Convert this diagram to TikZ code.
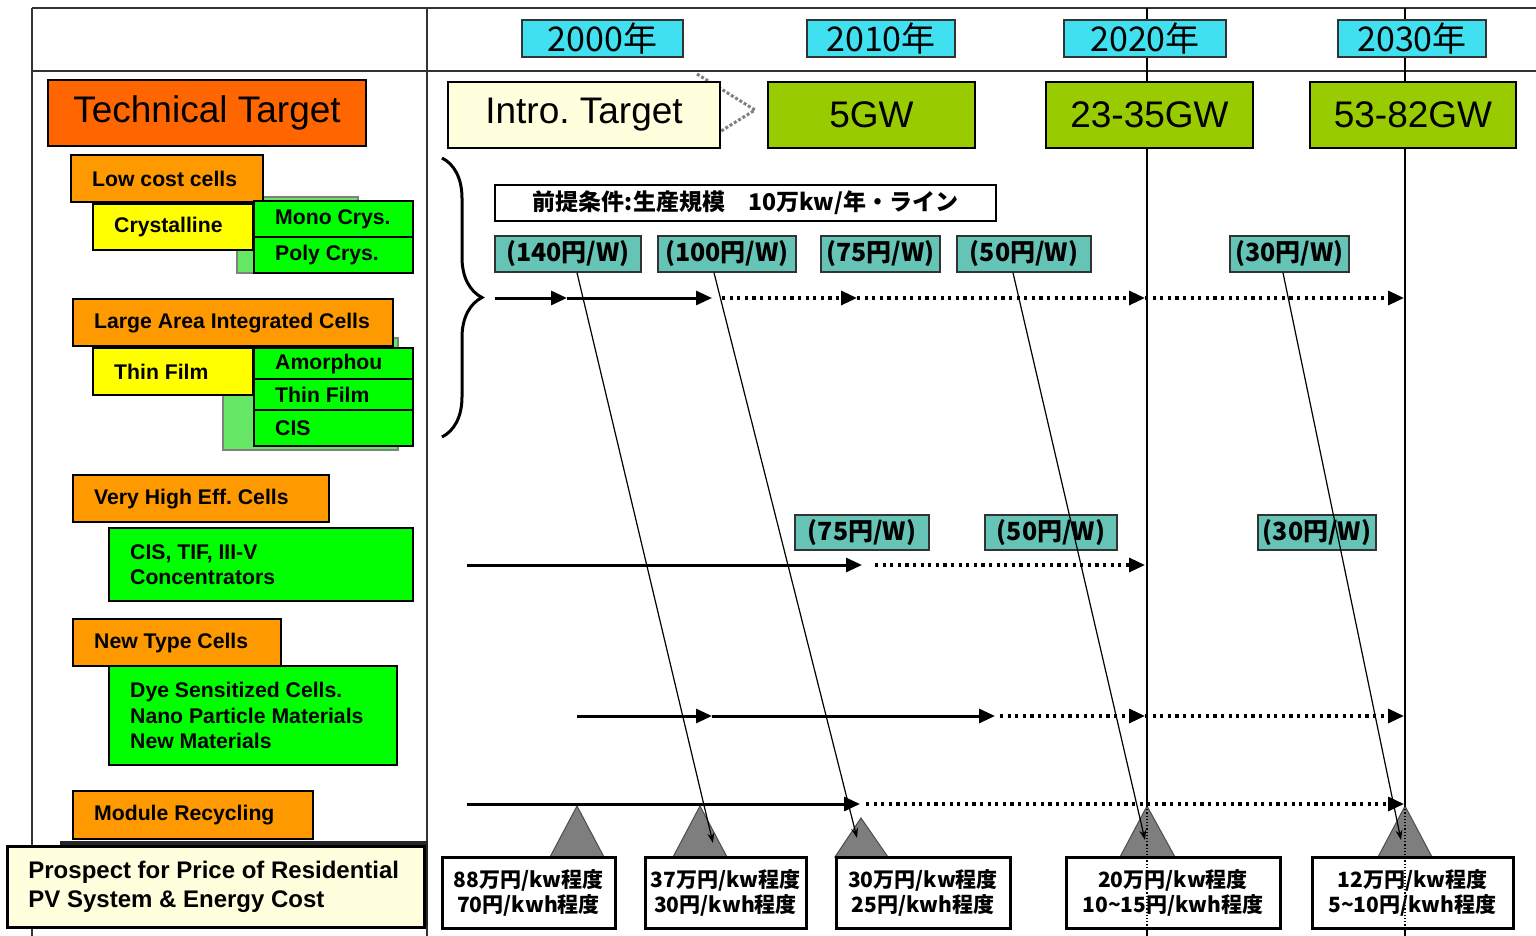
\documentclass[tikz,border=0pt]{standalone}
\usepackage{fontspec}
\setmainfont{Liberation Sans}
\newfontfamily\jp{Noto Sans CJK JP}
\usetikzlibrary{arrows.meta,decorations.pathreplacing}
\definecolor{torange}{HTML}{FF6600}
\definecolor{lorange}{HTML}{FF9900}
\definecolor{yel}{HTML}{FFFF00}
\definecolor{grn}{HTML}{00FF00}
\definecolor{gwcol}{HTML}{99CC00}
\definecolor{cream}{HTML}{FFFFDD}
\definecolor{cyanbox}{HTML}{40E0F0}
\definecolor{pricecol}{HTML}{66C4B6}
\definecolor{shgreen}{HTML}{66E866}
\definecolor{trigcol}{HTML}{7E7E7E}
\newcommand\bxl[7]{%
  \pgfmathsetmacro\bw{#4*0.5}\pgfmathsetmacro\bh{#5*0.5}%
  \node[#6, anchor=north west, minimum width=\bw pt, minimum height=\bh pt, inner sep=0pt] (#1) at (#2,#3) {};
  \node[#6, draw=none, fill=none, anchor=west, inner sep=0pt] (#1t) at ([xshift=10.5pt]#1.west) {#7};}
\newcommand\bxc[7]{%
  \pgfmathsetmacro\bw{#4*0.5}\pgfmathsetmacro\bh{#5*0.5}%
  \node[#6, minimum width=\bw pt, minimum height=\bh pt, inner sep=0pt]
        (#1) at ({#2+#4/2},{#3+#5/2}) {#7};}
\tikzset{
  frameline/.style={line width=1pt, black!80},
  yearline/.style={line width=0.7pt, black},
  big/.style={draw=black, line width=1.2pt, font=\fontsize{18.5}{22}\selectfont},
  lbl/.style={draw=black, line width=1.2pt, align=left, font=\fontsize{10.6}{12.8}\selectfont\bfseries},
  lblb/.style={draw=black, line width=1.4pt, align=left, font=\fontsize{12}{14.5}\selectfont\bfseries},
  yearbox/.style={fill=cyanbox, draw=black!80, line width=0.8pt, font=\jp\fontsize{17}{20}\selectfont},
  price/.style={fill=pricecol, draw=black!80, line width=0.8pt, font=\jp\bfseries\fontsize{12.5}{15}\selectfont},
  jpbox/.style={draw=black, fill=white, line width=0.9pt, font=\jp\bfseries\fontsize{11.5}{14}\selectfont},
  cost/.style={draw=black, fill=white, line width=1.5pt, align=center, font=\jp\bfseries\fontsize{10.5}{12.5}\selectfont},
  solidarr/.style={line width=1.5pt, -{Triangle[length=8pt,width=7pt]}},
  dotarr/.style={line width=1.6pt, dash pattern=on 1.6pt off 2.2pt, -{Triangle[length=8pt,width=7pt]}},
  diag/.style={line width=0.6pt, -{Stealth[length=5pt,width=3.5pt]}},
  trig/.style={fill=trigcol, draw=black!70, line width=0.5pt},
  shadowbox/.style={fill=shgreen, draw=black!50, line width=0.8pt},
}
\begin{document}
\frenchspacing
\begin{tikzpicture}[x=0.5pt,y=-0.5pt]
\useasboundingbox (0,0) rectangle (1536,936);
\fill[white] (0,0) rectangle (1536,936);
% frame
\draw[frameline] (32,8) -- (1536,8);
\draw[frameline] (32,71) -- (1536,71);
\draw[frameline] (32,8) -- (32,936);
\draw[frameline] (427,8) -- (427,936);
\draw[yearline] (1147,8) -- (1147,936);
\draw[yearline] (1405,8) -- (1405,936);
% years
\bxc{y2000}{522}{20}{161}{37}{yearbox}{2000年}
\bxc{y2010}{807}{20}{148}{37}{yearbox}{2010年}
\bxc{y2020}{1064}{20}{162}{37}{yearbox}{2020年}
\bxc{y2030}{1338}{20}{148}{37}{yearbox}{2030年}
% targets
\draw[densely dotted, gray, line width=1.5pt, fill=white] (697,74) -- (755,110) -- (697,146);
\bxc{tech}{48}{80}{318}{66}{big, fill=torange}{Technical Target}
\bxc{intro}{448}{82}{272}{66}{big, fill=cream}{Intro. Target}
\bxc{g1}{768}{82}{207}{66}{big, fill=gwcol}{5GW}
\bxc{g2}{1046}{82}{207}{66}{big, fill=gwcol}{23-35GW}
\bxc{g3}{1310}{82}{206}{66}{big, fill=gwcol}{53-82GW}
% left panel
\draw[shadowbox] (237,197) rectangle (358,273);
\bxl{lowcost}{70}{154}{192}{47}{lbl, fill=lorange}{Low cost cells}
\bxl{cryst}{92}{203}{160}{46}{lbl, fill=yel}{Crystalline}
\bxl{mono}{253}{200}{159}{36}{lbl, fill=grn}{Mono Crys.}
\bxl{poly}{253}{236}{159}{36}{lbl, fill=grn}{Poly Crys.}
\draw[shadowbox] (223,338) rectangle (398,450);
\bxl{large}{72}{298}{320}{47}{lbl, fill=lorange}{Large Area Integrated Cells}
\bxl{thin}{92}{347}{160}{47}{lbl, fill=yel}{Thin Film}
\bxl{amor}{253}{347}{159}{31}{lbl, fill=grn}{Amorphou}
\bxl{tfilm}{253}{378}{159}{31}{lbl, fill=grn}{Thin Film}
\bxl{cis}{253}{409}{159}{36}{lbl, fill=grn}{CIS}
\bxl{vhe}{72}{474}{256}{47}{lbl, fill=lorange}{Very High Eff. Cells}
\bxl{cistif}{108}{527}{304}{73}{lbl, fill=grn}{CIS, TIF, III-V\\Concentrators}
\bxl{newt}{72}{618}{208}{47}{lbl, fill=lorange}{New Type Cells}
\bxl{dye}{108}{665}{288}{99}{lbl, fill=grn}{Dye Sensitized Cells.\\Nano Particle Materials\\New Materials}
\bxl{mod}{72}{790}{240}{48}{lbl, fill=lorange}{Module Recycling}
\fill[black!85] (60,841) rectangle (428,926);
\bxl{prosp}{6}{845}{417}{81}{lblb, fill=cream}{Prospect for Price of Residential\\PV System \& Energy Cost}
% brace
\draw[line width=1.5pt, decorate, decoration={brace, amplitude=20pt}] (442,158) -- (442,437);
% premise and prices
\bxc{prem}{495}{185}{501}{36}{jpbox}{前提条件:生産規模\quad 10万kw/年・ライン}
\bxc{p140}{495}{236}{146}{36}{price}{(140円/W)}
\bxc{p100}{658}{236}{138}{36}{price}{(100円/W)}
\bxc{p75a}{821}{236}{119}{36}{price}{(75円/W)}
\bxc{p50a}{957}{236}{134}{36}{price}{(50円/W)}
\bxc{p30a}{1230}{236}{119}{36}{price}{(30円/W)}
\bxc{p75b}{795}{515}{134}{35}{price}{(75円/W)}
\bxc{p50b}{985}{515}{132}{35}{price}{(50円/W)}
\bxc{p30b}{1258}{515}{118}{35}{price}{(30円/W)}
% row coordinates
\coordinate (a1) at (495,298); \coordinate (a2) at (567,298); \coordinate (a3) at (712,298);
\coordinate (a4) at (722,298); \coordinate (a5) at (857,298); \coordinate (a6) at (1145,298);
\coordinate (a7) at (1404,298);
\coordinate (b1) at (467,565); \coordinate (b2) at (862,565); \coordinate (b3) at (875,565);
\coordinate (b4) at (1145,565);
\coordinate (c1) at (577,716); \coordinate (c2) at (712,716); \coordinate (c3) at (995,716);
\coordinate (c4) at (1000,716); \coordinate (c5) at (1145,716); \coordinate (c6) at (1404,716);
\coordinate (d1) at (467,804); \coordinate (d2) at (860,804); \coordinate (d3) at (866,804);
\coordinate (d4) at (1404,804);
% triangles
\filldraw[trig] (577,806) -- (550,857) -- (604,857) -- cycle;
\filldraw[trig] (700,806) -- (673,857) -- (727,857) -- cycle;
\filldraw[trig] (861,818) -- (835,857) -- (888,857) -- cycle;
\filldraw[trig] (1147,806) -- (1120,857) -- (1175,857) -- cycle;
\filldraw[trig] (1405,806) -- (1378,857) -- (1432,857) -- cycle;
% arrows
\draw[solidarr] (a1) -- (a2);
\draw[solidarr] (a2) -- (a3);
\draw[dotarr] (a4) -- (a5);
\draw[dotarr] (a5) -- (a6);
\draw[dotarr] (a6) -- (a7);
\draw[solidarr] (b1) -- (b2);
\draw[dotarr] (b3) -- (b4);
\draw[solidarr] (c1) -- (c2);
\draw[solidarr] (c2) -- (c3);
\draw[dotarr] (c4) -- (c5);
\draw[dotarr] (c5) -- (c6);
\draw[solidarr] (d1) -- (d2);
\draw[dotarr] (d3) -- (d4);
% cost boxes
\bxc{k1}{442}{857}{173}{71}{cost}{88万円/kw程度\\70円/kwh程度}
\bxc{k2}{645}{857}{161}{71}{cost}{37万円/kw程度\\30円/kwh程度}
\bxc{k3}{836}{857}{174}{71}{cost}{30万円/kw程度\\25円/kwh程度}
\bxc{k4}{1066}{857}{214}{71}{cost}{20万円/kw程度\\10\textasciitilde 15円/kwh程度}
\bxc{k5}{1312}{857}{201}{71}{cost}{12万円/kw程度\\5\textasciitilde 10円/kwh程度}
\draw[densely dotted, line width=0.6pt] (1147,806) -- (1147,928);
\draw[densely dotted, line width=0.6pt] (1405,806) -- (1405,928);
% diagonal links
\coordinate (e1) at (713,843); \coordinate (e2) at (857,838);
\coordinate (e3) at (1145,840); \coordinate (e4) at (1401,840);
\draw[diag] ([xshift=4.5pt]p140.south) -- (e1);
\draw[diag] ([xshift=-6.5pt]p100.south) -- (e2);
\draw[diag] ([xshift=-5.5pt]p50a.south) -- (e3);
\draw[diag] ([xshift=-3.25pt]p30a.south) -- (e4);
\end{tikzpicture}
\end{document}
